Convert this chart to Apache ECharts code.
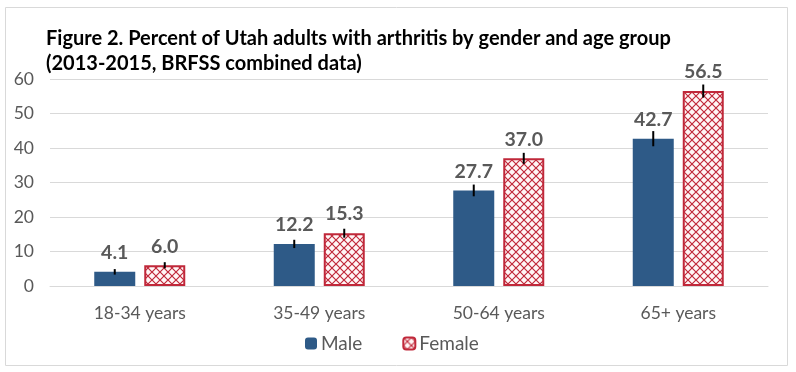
<!DOCTYPE html>
<html><head><meta charset="utf-8">
<script src="https://cdn.jsdelivr.net/npm/echarts@6/dist/echarts.min.js"></script>
<style>html,body{margin:0;padding:0;background:#fff}#c{width:796px;height:372px}</style>
</head><body><div id="c"></div>
<script>
const categories = ['18-34 years', '35-49 years', '50-64 years', '65+ years'];
const maleValues = [4.1, 12.2, 27.7, 42.7];
const femaleValues = [6.0, 15.3, 37.0, 56.5];
const maleLow = [3.3, 11.0, 26.0, 40.5];
const maleHigh = [4.9, 13.4, 29.4, 44.9];
const femaleLow = [5.1, 14.0, 35.4, 54.6];
const femaleHigh = [6.9, 16.6, 38.6, 58.4];
const yTicks = [0, 10, 20, 30, 40, 50, 60];

const pc = document.createElement('canvas');
pc.width = 8; pc.height = 8;
const g = pc.getContext('2d');
g.fillStyle = '#fff6f6'; g.fillRect(0, 0, 8, 8);
g.strokeStyle = '#c0283a'; g.lineWidth = 1.2;
g.beginPath();
g.moveTo(0, 0); g.lineTo(8, 8);
g.moveTo(8, 0); g.lineTo(0, 8);
g.stroke();

const font = 'Lato, "Open Sans", sans-serif';
const chart = echarts.init(document.getElementById('c'), null, {renderer: 'canvas'});
const BW = 41, GAP = 9;
function errSeries(low, high, dir) {
  return {
    type: 'custom', silent: true, z: 5,
    data: categories.map((c, i) => [i, low[i], high[i]]),
    encode: {x: 0, y: [1, 2]},
    renderItem: function (params, api) {
      const off = dir * (BW + GAP) / 2;
      const p1 = api.coord([api.value(0), api.value(1)]);
      const p2 = api.coord([api.value(0), api.value(2)]);
      return {type: 'line', shape: {x1: p1[0] + off, y1: p1[1], x2: p2[0] + off, y2: p2[1]},
        style: {stroke: '#000', lineWidth: 2}};
    }
  };
}
chart.setOption({
  animation: false,
  textStyle: {fontFamily: font},
  graphic: [{type: 'rect', shape: {x: 5.5, y: 7.5, width: 782, height: 358}, style: {fill: 'none', stroke: '#d9d9d9', lineWidth: 1}, silent: true}],
  title: {text: 'Figure 2. Percent of Utah adults with arthritis by gender and age group\n(2013-2015, BRFSS combined data)',
    left: 46, top: 26, padding: 0, textStyle: {fontFamily: font, fontSize: 20, fontWeight: 'bold', color: '#000', lineHeight: 25}},
  legend: {top: 334, left: 305, itemWidth: 12, itemHeight: 12, itemGap: 40, padding: 0,
    textStyle: {fontFamily: font, fontSize: 19, color: '#595959', padding: [0, 0, 0, -1]},
    data: ['Male', 'Female']},
  grid: {left: 50, right: 28, top: 79, bottom: 86},
  xAxis: {type: 'category', data: categories,
    axisLine: {lineStyle: {color: '#d9d9d9'}}, axisTick: {show: false},
    axisLabel: {fontSize: 17.5, color: '#595959', margin: 18, fontFamily: font}},
  yAxis: {type: 'value', min: yTicks[0], max: yTicks[yTicks.length - 1], interval: 10,
    splitLine: {lineStyle: {color: '#d9d9d9'}},
    axisLabel: {fontSize: 17.5, color: '#595959', margin: 16, fontFamily: font}},
  series: [
    {name: 'Male', type: 'bar', data: maleValues, barWidth: BW, barGap: (GAP / BW * 100) + '%',
      itemStyle: {color: '#2e5a87'},
      label: {show: true, position: 'top', distance: 9, fontSize: 19.5, fontWeight: 'bold', color: '#595959', fontFamily: font,
        formatter: p => p.value.toFixed(1)}},
    {name: 'Female', type: 'bar', data: femaleValues, barWidth: BW,
      itemStyle: {color: {image: pc, repeat: 'repeat'}, borderColor: '#c0283a', borderWidth: 2},
      label: {show: true, position: 'top', distance: 9, fontSize: 19.5, fontWeight: 'bold', color: '#595959', fontFamily: font,
        formatter: p => p.value.toFixed(1)}},
    errSeries(maleLow, maleHigh, -1),
    errSeries(femaleLow, femaleHigh, 1)
  ]
});
</script></body></html>
